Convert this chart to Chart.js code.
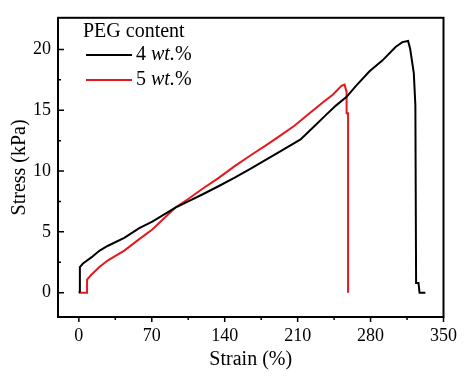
<!DOCTYPE html>
<html>
<head>
<meta charset="utf-8">
<script src="https://cdn.jsdelivr.net/npm/chart.js@4"></script>
<style>
  html, body { margin: 0; padding: 0; background: #fff; }
  #wrap { width: 465px; height: 378px; }
</style>
</head>
<body>
<div id="wrap"><canvas id="myChart" width="465" height="378"></canvas></div>
<script>
// values
var strain4 = [0, 1, 1, 4, 12, 20, 28, 43.6, 58, 70.5, 92.7, 105, 118, 134, 149.6, 165, 181, 197, 212.8, 225, 237, 247, 257, 266, 279, 291.5, 304, 310.5, 316, 318, 321.5, 323, 323.7, 326, 327, 332.6];
var stress4 = [0, 0.1, 2.1, 2.4, 2.9, 3.46, 3.86, 4.5, 5.3, 5.85, 7.0, 7.5, 8.05, 8.75, 9.45, 10.2, 11.0, 11.8, 12.6, 13.6, 14.6, 15.4, 16.1, 17.0, 18.2, 19.1, 20.2, 20.6, 20.7, 20.05, 18.05, 15.4, 0.8, 0.8, 0, 0];
var strain5 = [0, 7.9, 7.9, 12, 20, 28, 43.6, 58, 70.5, 92.7, 105, 118, 133.6, 149.6, 165, 181, 194, 206.6, 222, 235, 244, 252, 255, 257, 257, 258.4, 258.4];
var stress5 = [0, 0, 1.07, 1.47, 2.13, 2.66, 3.46, 4.4, 5.2, 7.0, 7.7, 8.5, 9.4, 10.4, 11.3, 12.2, 12.95, 13.7, 14.8, 15.7, 16.3, 17.0, 17.1, 16.5, 14.75, 14.75, 0];

var xTicks = [0, 70, 140, 210, 280, 350];
var xMinor = [35, 105, 175, 245, 315];
var yTicks = [0, 5, 10, 15, 20];
var yMinor = [2.5, 7.5, 12.5, 17.5];

var seriesNames = ['4', '5'];
var seriesColors = ['#000000', '#e3191e'];

function toPoints(xs, ys) {
    var pts = [];
    for (var i = 0; i < xs.length; i++) {
        pts.push({x: xs[i], y: ys[i]});
    }
    return pts;
}

var serif = '"Liberation Serif", "Times New Roman", serif';

// frame, ticks and legend drawn by hand
var framePlugin = {
    id: 'frame',
    afterDraw: function(chart) {
        var ctx = chart.ctx;
        var a = chart.chartArea;
        var xs = chart.scales.x, ys = chart.scales.y;
        ctx.save();
        ctx.strokeStyle = '#000';
        ctx.lineWidth = 2;
        ctx.strokeRect(a.left, a.top, a.right - a.left, a.bottom - a.top);

        ctx.lineWidth = 1.5;
        ctx.beginPath();
        xTicks.forEach(function(v) {
            var px = xs.getPixelForValue(v);
            ctx.moveTo(px, a.bottom); ctx.lineTo(px, a.bottom + 5);
        });
        xMinor.forEach(function(v) {
            var px = xs.getPixelForValue(v);
            ctx.moveTo(px, a.bottom); ctx.lineTo(px, a.bottom + 3);
        });
        yTicks.forEach(function(v) {
            var py = ys.getPixelForValue(v);
            ctx.moveTo(a.left, py); ctx.lineTo(a.left + 6, py);
        });
        yMinor.forEach(function(v) {
            var py = ys.getPixelForValue(v);
            ctx.moveTo(a.left, py); ctx.lineTo(a.left + 3, py);
        });
        ctx.stroke();

        // legend
        ctx.fillStyle = '#000';
        ctx.textBaseline = 'middle';
        ctx.font = '20px ' + serif;
        ctx.fillText('PEG content', 83, 32);
        for (var i = 0; i < seriesNames.length; i++) {
            var ly = 55 + i * 25;
            ctx.strokeStyle = seriesColors[i];
            ctx.lineWidth = 2;
            ctx.beginPath();
            ctx.moveTo(86, ly); ctx.lineTo(132, ly);
            ctx.stroke();
            var tx = 136;
            ctx.font = '20px ' + serif;
            ctx.fillText(seriesNames[i] + ' ', tx, ly);
            tx += ctx.measureText(seriesNames[i] + ' ').width;
            ctx.font = 'italic 20px ' + serif;
            ctx.fillText('wt.', tx, ly);
            tx += ctx.measureText('wt.').width;
            ctx.font = '20px ' + serif;
            ctx.fillText('%', tx, ly);
        }
        ctx.restore();
    }
};

const ctx = document.getElementById('myChart').getContext('2d');
const myChart = new Chart(ctx, {
    type: 'scatter',
    data: {
        datasets: [{
            label: '4 wt.%',
            data: toPoints(strain4, stress4),
            showLine: true,
            borderColor: seriesColors[0],
            borderWidth: 2,
            pointRadius: 0,
            tension: 0
        },
        {
            label: '5 wt.%',
            data: toPoints(strain5, stress5),
            showLine: true,
            borderColor: seriesColors[1],
            borderWidth: 2,
            pointRadius: 0,
            tension: 0
        }]
    },
    options: {
        responsive: false,
        animation: false,
        layout: { padding: { top: 8, right: 17, left: 0, bottom: 0 } },
        plugins: {
            legend: { display: false },
            tooltip: { enabled: false }
        },
        scales: {
            x: {
                type: 'linear',
                min: -20,
                max: 350,
                grid: { display: false, drawTicks: false },
                border: { display: false },
                afterBuildTicks: function(s) { s.ticks = xTicks.map(function(v) { return {value: v}; }); },
                afterFit: function(s) { s.height = 61; },
                ticks: { color: '#000', padding: 8, maxRotation: 0, font: { family: serif, size: 18 } },
                title: { display: true, text: 'Strain (%)', color: '#000', padding: { top: 0, bottom: 6 }, font: { family: serif, size: 20 } }
            },
            y: {
                min: -2,
                max: 22.6,
                grid: { display: false, drawTicks: false },
                border: { display: false },
                afterBuildTicks: function(s) { s.ticks = yTicks.map(function(v) { return {value: v}; }); },
                afterFit: function(s) { s.width = 58; },
                ticks: { color: '#000', padding: 7, font: { family: serif, size: 18 } },
                title: { display: true, text: 'Stress (kPa)', color: '#000', padding: { top: 8, bottom: 0 }, font: { family: serif, size: 20 } }
            }
        }
    },
    plugins: [framePlugin]
});
</script>
</body>
</html>
